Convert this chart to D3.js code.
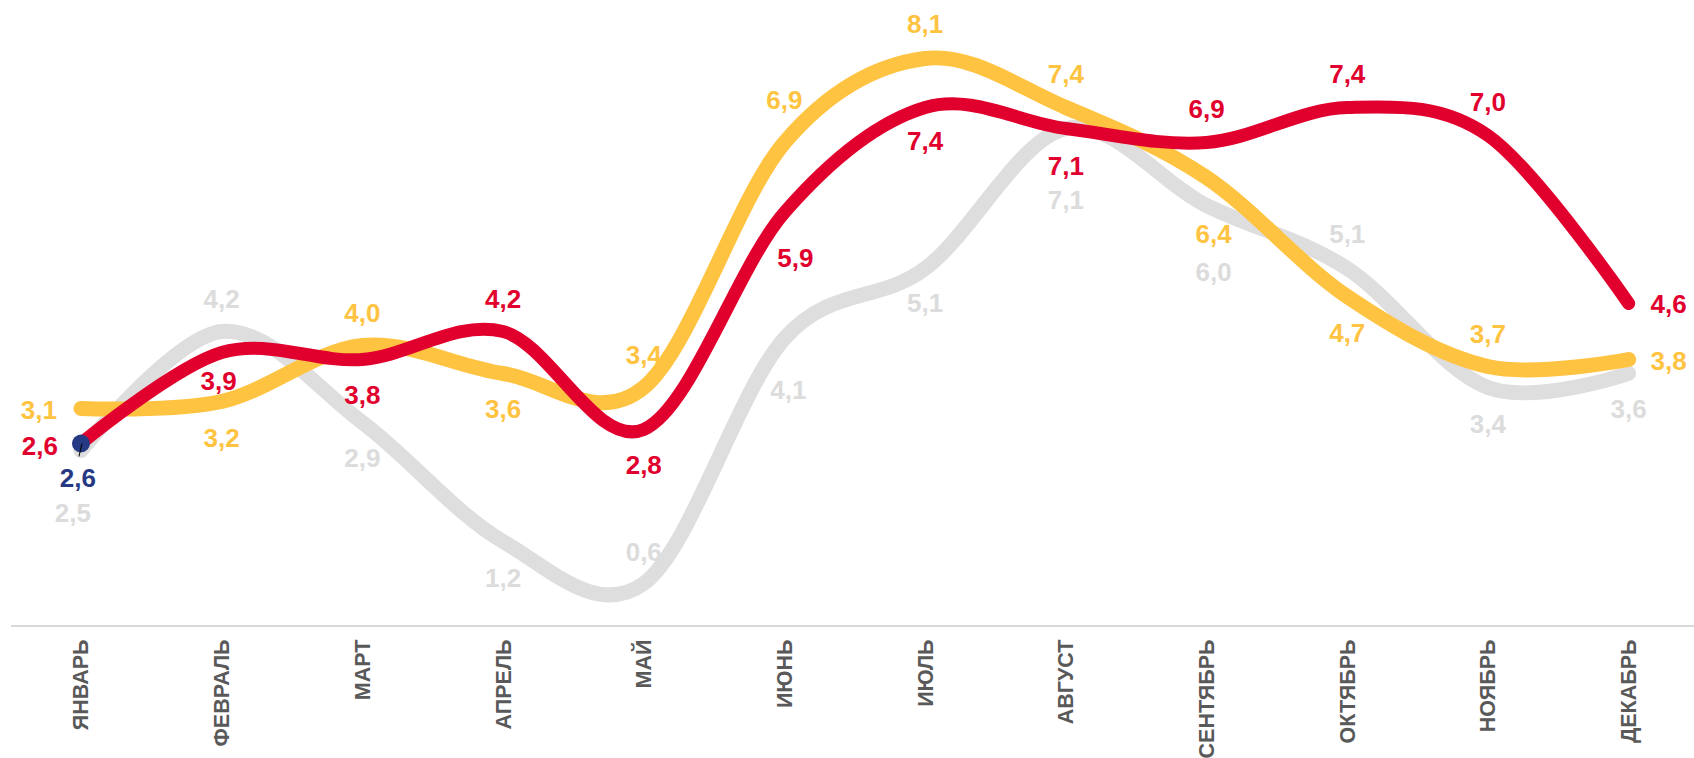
<!DOCTYPE html>
<html>
<head>
<meta charset="utf-8">
<script src="https://cdn.jsdelivr.net/npm/d3@7/dist/d3.min.js"></script>
<style>
  html, body { margin: 0; padding: 0; background: #ffffff; }
  svg { display: block; }
</style>
</head>
<body>
<div id="chart"></div>
<script>
// ---------- data ----------
const months = ["ЯНВАРЬ","ФЕВРАЛЬ","МАРТ","АПРЕЛЬ","МАЙ","ИЮНЬ","ИЮЛЬ","АВГУСТ","СЕНТЯБРЬ","ОКТЯБРЬ","НОЯБРЬ","ДЕКАБРЬ"];
const grayValues   = [2.5, 4.2, 2.9, 1.2, 0.6, 4.1, 5.1, 7.1, 6.0, 5.1, 3.4, 3.6];
const yellowValues = [3.1, 3.2, 4.0, 3.6, 3.4, 6.9, 8.1, 7.4, 6.4, 4.7, 3.7, 3.8];
const redValues    = [2.6, 3.9, 3.8, 4.2, 2.8, 5.9, 7.4, 7.1, 6.9, 7.4, 7.0, 4.6];
const highlightIndex = 0;              // highlighted point on the red series
const highlightValue = redValues[highlightIndex];

// ---------- label placement (pixel offsets from each point) ----------
const grayLabelOffsets   = [[-8,62],[0,-33],[0,35],[0,36],[0,-32],[4,51],[0,34],[0,71],[7,66],[0,-35],[0,36],[0,35]];
const yellowLabelOffsets = [[-42,1],[0,36],[0,-33],[0,35],[0,-33],[0,-43],[0,-35],[0,-34],[7,56],[0,36],[0,-33],[40,1]];
const redLabelOffsets    = [[-41,2],[-3,28],[0,35],[0,-33],[0,35],[11,45],[0,33],[0,37],[0,-34],[0,-34],[0,-34],[40,0]];
const highlightLabelOffset = [-3, 34];

// ---------- styles ----------
const W = 1694, H = 758;
const colors = { gray: "#dedede", grayLabel: "#dcdcdc", yellow: "#ffc342", red: "#e1002d", blue: "#263a84", axis: "#d9d9d9", axisText: "#595959" };

const svg = d3.select("#chart").append("svg").attr("width", W).attr("height", H);

const x = d3.scaleBand().domain(months).range([10.6, 1699]).paddingInner(0).paddingOuter(0);
const cx = m => x(m) + x.bandwidth() / 2;
const y = d3.scaleLinear().domain([0, 9]).range([625.5, -4.5]);

const fmt = v => d3.format(".1f")(v).replace(".", ",");

// axis
const axisG = svg.append("g").attr("transform", "translate(0," + y(0) + ")")
  .call(d3.axisBottom(x).tickSize(0).tickPadding(0));
axisG.select(".domain").attr("stroke", colors.axis).attr("stroke-width", 2);
axisG.selectAll(".tick text")
  .attr("transform", "translate(0,14) rotate(-90)")
  .attr("text-anchor", "end")
  .attr("dy", "0.35em")
  .attr("x", 0).attr("y", 0)
  .attr("fill", colors.axisText)
  .style("font-family", "'Liberation Sans', Arial, sans-serif")
  .style("font-weight", "bold")
  .style("font-size", "21.5px");

const line = d3.line()
  .x((d, i) => cx(months[i]))
  .y(d => y(d))
  .curve(d3.curveCardinal.tension(0));

const series = [
  { values: grayValues,   color: colors.gray,   width: 15, labelColor: colors.grayLabel, offsets: grayLabelOffsets },
  { values: yellowValues, color: colors.yellow, width: 15, labelColor: colors.yellow,    offsets: yellowLabelOffsets },
  { values: redValues,    color: colors.red,    width: 13, labelColor: colors.red,       offsets: redLabelOffsets }
];

series.forEach(s => {
  svg.append("path")
    .datum(s.values)
    .attr("d", line)
    .attr("fill", "none")
    .attr("stroke", s.color)
    .attr("stroke-width", s.width)
    .attr("stroke-linecap", "round")
    .attr("stroke-linejoin", "round");
});

// highlight dot + leader
const hx = cx(months[highlightIndex]), hy = y(highlightValue);
svg.append("circle").attr("cx", hx).attr("cy", hy).attr("r", 9).attr("fill", colors.blue);
svg.append("line")
  .attr("x1", hx + 1).attr("y1", hy)
  .attr("x2", hx - 2).attr("y2", hy + 13)
  .attr("stroke", "#000").attr("stroke-width", 1);

// data labels
series.forEach(s => {
  svg.append("g").selectAll("text")
    .data(s.values)
    .join("text")
    .attr("x", (d, i) => cx(months[i]) + s.offsets[i][0])
    .attr("y", (d, i) => y(d) + s.offsets[i][1])
    .attr("dy", "0.35em")
    .attr("text-anchor", "middle")
    .attr("fill", s.labelColor)
    .style("font-family", "'Liberation Sans', Arial, sans-serif")
    .style("font-weight", "bold")
    .style("font-size", "26px")
    .text(d => fmt(d));
});

svg.append("text")
  .attr("x", hx + highlightLabelOffset[0])
  .attr("y", hy + highlightLabelOffset[1])
  .attr("dy", "0.35em")
  .attr("text-anchor", "middle")
  .attr("fill", colors.blue)
  .style("font-family", "'Liberation Sans', Arial, sans-serif")
  .style("font-weight", "bold")
  .style("font-size", "26px")
  .text(fmt(highlightValue));
</script>
</body>
</html>
